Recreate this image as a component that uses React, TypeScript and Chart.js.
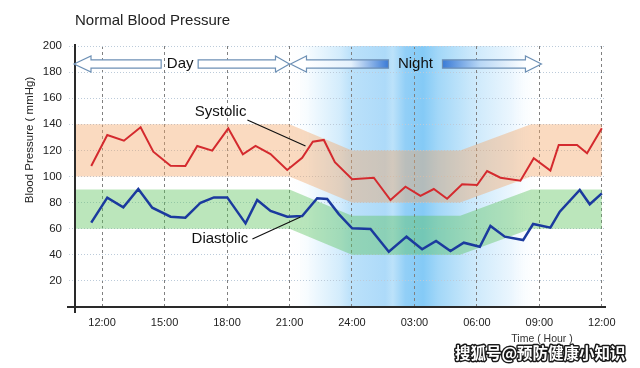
import React, { useEffect, useRef } from 'react';
import { Chart, registerables } from 'chart.js';

Chart.register(...registerables);

const FONT = "'Liberation Sans', Arial, Helvetica, sans-serif";

// ---- axis data ----
const tickHours = [12, 15, 18, 21, 24, 27, 30, 33, 36];
const tickLabels = ['12:00', '15:00', '18:00', '21:00', '24:00', '03:00', '06:00', '09:00', '12:00'];
const xMin = 10.7;
const xMax = 36.2;
const yMin = 0;
const yMax = 200;
const yStep = 20;

// ---- series data (hour of day, continuing past 24) ----
const sysHours = [11.48, 12.25, 13.05, 13.85, 14.46, 15.29, 16.0, 16.57, 17.29, 18.06, 18.76, 19.37, 20.09, 20.89, 21.61, 22.12, 22.65, 23.18, 24.01, 25.05, 25.85, 26.57, 27.29, 27.93, 28.57, 29.29, 30.01, 30.49, 31.13, 32.09, 32.73, 33.53, 33.93, 34.81, 35.29, 36.0];
const sysValues = [108, 131.8, 127.4, 137.7, 119, 108.3, 108, 123.4, 119.8, 136.9, 117, 123.4, 117.2, 105, 114.4, 126.7, 128, 110.9, 97.9, 99.1, 82, 92.2, 85.1, 90.4, 83, 94, 93.5, 104.2, 99.1, 96.8, 114, 104.5, 124.1, 124.1, 117.8, 136.9];

const diaHours = [11.48, 12.25, 13.02, 13.74, 14.41, 15.29, 16.0, 16.73, 17.37, 18.01, 18.89, 19.45, 20.09, 20.89, 21.61, 22.33, 22.81, 23.37, 24.01, 24.89, 25.77, 26.62, 27.37, 28.04, 28.73, 29.37, 30.14, 30.65, 31.34, 32.22, 32.7, 33.53, 33.98, 34.94, 35.42, 36.0];
const diaValues = [64.6, 83.8, 76.4, 90.4, 76.1, 69.2, 68.4, 79.9, 84, 84, 64.1, 82, 73.6, 69.2, 69.7, 83.3, 82.8, 71.2, 60.3, 59.8, 42.4, 53.9, 44.2, 50.6, 42.9, 49.3, 46.2, 62.1, 53.9, 51.3, 63.6, 60.8, 73, 89.7, 78.7, 87.1];

// ---- normal ranges ----
const bandHours = [10.7, 21, 24, 29.2, 32.6, 36];
const sysBandHigh = [140, 140, 120, 120, 140, 140];
const sysBandLow = [100, 100, 80, 80, 100, 100];
const diaBandHigh = [90, 90, 70, 70, 90, 90];
const diaBandLow = [60, 60, 40, 40, 60, 60];

// ---- night shading ----
const nightStart = 21;
const nightEnd = 33.1;
const nightStops: [number, string][] = [
  [0, 'rgba(255,255,255,0)'],
  [0.1, '#eef8fe'],
  [0.2, '#d3ecfc'],
  [0.245, '#bbe1fa'],
  [0.38, '#addaf9'],
  [0.41, '#bce2fa'],
  [0.46, '#92cff7'],
  [0.53, '#84caf6'],
  [0.59, '#a2d7f8'],
  [0.72, '#cae8fb'],
  [0.88, '#ebf6fe'],
  [1, 'rgba(255,255,255,0)'],
];

// ---- annotation text ----
const titleText = 'Normal Blood Pressure';
const yTitle = 'Blood Pressure ( mmHg)';
const xTitle = 'Time ( Hour )';
const dayLabel = 'Day';
const nightLabel = 'Night';
const sysLabel = 'Systolic';
const diaLabel = 'Diastolic';
const watermark = '搜狐号@预防健康小知识';

const arrowValue = 186.2;
const dayTextHour = 15.75;
const nightTextHour = 27.05;
const sysLabelPos = { x: 17.69, y: 149.4 };
const sysLeader = [{ x: 18.98, y: 143.3 }, { x: 21.77, y: 123.4 }];
const diaLabelPos = { x: 17.66, y: 52.1 };
const diaLeader = [{ x: 19.22, y: 52.1 }, { x: 21.53, y: 69 }];

const pts = (xs: number[], ys: number[]) => xs.map((x, i) => ({ x, y: ys[i] }));

function arrowPath(ctx: CanvasRenderingContext2D, xTip: number, xEnd: number, cy: number, hl: number) {
  const dir = xEnd > xTip ? 1 : -1;
  const hh = 8;
  const sh = 4.2;
  const xb = xTip + dir * hl;
  ctx.beginPath();
  ctx.moveTo(xTip, cy);
  ctx.lineTo(xb, cy - hh);
  ctx.lineTo(xb, cy - sh);
  ctx.lineTo(xEnd, cy - sh);
  ctx.lineTo(xEnd, cy + sh);
  ctx.lineTo(xb, cy + sh);
  ctx.lineTo(xb, cy + hh);
  ctx.closePath();
}

export default function App() {
  const ref = useRef<HTMLCanvasElement>(null);

  useEffect(() => {
    const canvas = ref.current;
    if (!canvas) return;

    const nightPlugin = {
      id: 'nightShade',
      beforeDraw(chart: any) {
        const { ctx, chartArea } = chart;
        const xs = chart.scales.x;
        const x0 = xs.getPixelForValue(nightStart);
        const x1 = xs.getPixelForValue(nightEnd);
        const g = ctx.createLinearGradient(x0, 0, x1, 0);
        nightStops.forEach(([o, c]) => g.addColorStop(o, c));
        ctx.save();
        ctx.fillStyle = g;
        ctx.fillRect(x0, chartArea.top, x1 - x0, chartArea.bottom - chartArea.top);
        ctx.restore();
      },
    };

    const decorPlugin = {
      id: 'decor',
      afterDraw(chart: any) {
        const { ctx, chartArea } = chart;
        const xs = chart.scales.x;
        const ys = chart.scales.y;
        const px = (h: number) => xs.getPixelForValue(h);
        const py = (v: number) => ys.getPixelForValue(v);
        ctx.save();

        // axis lines
        ctx.strokeStyle = '#2a2a2a';
        ctx.lineWidth = 2;
        ctx.setLineDash([]);
        ctx.beginPath();
        ctx.moveTo(chartArea.left, chartArea.top - 2);
        ctx.lineTo(chartArea.left, chartArea.bottom + 6);
        ctx.moveTo(chartArea.left - 8, chartArea.bottom);
        ctx.lineTo(chartArea.right, chartArea.bottom);
        ctx.stroke();

        // title
        ctx.fillStyle = '#222';
        ctx.font = `15px ${FONT}`;
        ctx.textAlign = 'left';
        ctx.textBaseline = 'alphabetic';
        ctx.fillText(titleText, chartArea.left, 25);

        // y title
        ctx.save();
        ctx.translate(30, 140);
        ctx.rotate(-Math.PI / 2);
        ctx.font = `11.5px ${FONT}`;
        ctx.textAlign = 'center';
        ctx.textBaseline = 'middle';
        ctx.fillStyle = '#222';
        ctx.fillText(yTitle, 0, 0);
        ctx.restore();

        // arrows
        const cy = py(arrowValue);
        const outline = '#6d90b5';
        ctx.lineWidth = 1.2;
        ctx.strokeStyle = outline;
        const dayL = chartArea.left;
        const dayR = px(nightStart);
        const dayC = px(dayTextHour);
        arrowPath(ctx, dayL - 1, dayC - 19, cy, 17);
        ctx.fillStyle = '#ffffff';
        ctx.fill();
        ctx.stroke();
        arrowPath(ctx, dayR, dayC + 18, cy, 14);
        ctx.fill();
        ctx.stroke();

        const nL = px(nightStart);
        const nR = px(nightEnd);
        const nC = px(nightTextHour);
        const gl = ctx.createLinearGradient(nL + 16, 0, nC - 27, 0);
        gl.addColorStop(0, '#ffffff');
        gl.addColorStop(0.55, '#e4f1fc');
        gl.addColorStop(1, '#3a7bd6');
        arrowPath(ctx, nL + 1, nC - 27, cy, 16);
        ctx.fillStyle = gl;
        ctx.fill();
        ctx.stroke();
        const gr = ctx.createLinearGradient(nC + 27, 0, nR - 15, 0);
        gr.addColorStop(0, '#3a7bd6');
        gr.addColorStop(0.45, '#b9d8f6');
        gr.addColorStop(1, '#ffffff');
        arrowPath(ctx, nR, nC + 27, cy, 16);
        ctx.fillStyle = gr;
        ctx.fill();
        ctx.stroke();

        ctx.fillStyle = '#111';
        ctx.font = `15px ${FONT}`;
        ctx.textAlign = 'center';
        ctx.textBaseline = 'middle';
        ctx.fillText(dayLabel, dayC, cy);
        ctx.fillText(nightLabel, nC, cy);

        // series labels and leaders
        ctx.fillText(sysLabel, px(sysLabelPos.x), py(sysLabelPos.y));
        ctx.fillText(diaLabel, px(diaLabelPos.x), py(diaLabelPos.y));
        ctx.strokeStyle = '#111';
        ctx.lineWidth = 1.2;
        ctx.beginPath();
        ctx.moveTo(px(sysLeader[0].x), py(sysLeader[0].y));
        ctx.lineTo(px(sysLeader[1].x), py(sysLeader[1].y));
        ctx.moveTo(px(diaLeader[0].x), py(diaLeader[0].y));
        ctx.lineTo(px(diaLeader[1].x), py(diaLeader[1].y));
        ctx.stroke();

        // x title
        ctx.font = `10.5px ${FONT}`;
        ctx.fillStyle = '#333';
        ctx.fillText(xTitle, 542, 339);

        // watermark
        ctx.font = `bold 15.5px 'Noto Sans CJK SC', sans-serif`;
        ctx.textAlign = 'left';
        ctx.textBaseline = 'middle';
        ctx.lineJoin = 'round';
        ctx.lineWidth = 3;
        ctx.strokeStyle = '#1a1a1a';
        ctx.strokeText(watermark, 455, 353);
        ctx.fillStyle = '#ffffff';
        ctx.fillText(watermark, 455, 353);

        ctx.restore();
      },
    };

    const lineCommon = { pointRadius: 0, pointHoverRadius: 0, tension: 0 };
    const bandCommon = { pointRadius: 0, borderWidth: 0, borderColor: 'rgba(0,0,0,0)', tension: 0 };

    const chart = new Chart(canvas, {
      type: 'line',
      data: {
        datasets: [
          { label: 'Systolic', data: pts(sysHours, sysValues), borderColor: '#d42a2e', borderWidth: 2, fill: false, ...lineCommon },
          { label: 'Diastolic', data: pts(diaHours, diaValues), borderColor: '#1b3a9e', borderWidth: 2.5, fill: false, ...lineCommon },
          { label: 'sysHigh', data: pts(bandHours, sysBandHigh), fill: false, ...bandCommon },
          { label: 'sysLow', data: pts(bandHours, sysBandLow), fill: '-1', backgroundColor: 'rgba(244,166,104,0.42)', ...bandCommon },
          { label: 'diaHigh', data: pts(bandHours, diaBandHigh), fill: false, ...bandCommon },
          { label: 'diaLow', data: pts(bandHours, diaBandLow), fill: '-1', backgroundColor: 'rgba(92,196,92,0.42)', ...bandCommon },
        ],
      },
      options: {
        responsive: false,
        animation: false,
        events: [],
        layout: { padding: { top: 46, right: 34, left: 0, bottom: 0 } },
        plugins: { legend: { display: false }, tooltip: { enabled: false }, title: { display: false } },
        scales: {
          x: {
            type: 'linear',
            min: xMin,
            max: xMax,
            afterFit: (s: any) => { s.height = 61; },
            afterBuildTicks: (s: any) => { s.ticks = tickHours.map((v) => ({ value: v })); },
            ticks: {
              autoSkip: false,
              maxRotation: 0,
              padding: 9,
              color: '#222',
              font: { family: FONT, size: 11 },
              callback: (_v: any, i: number) => tickLabels[i],
            },
            grid: { color: '#808080', lineWidth: 1, drawTicks: false },
            border: { display: false, dash: [3, 3] },
          },
          y: {
            type: 'linear',
            min: yMin,
            max: yMax,
            afterFit: (s: any) => { s.width = 75; },
            ticks: {
              stepSize: yStep,
              padding: 7,
              color: '#222',
              font: { family: FONT, size: 11.5 },
              callback: (v: any) => (v === 0 ? '' : String(v)),
            },
            grid: { color: '#bccbda', lineWidth: 1, drawTicks: true, tickLength: 6, tickColor: '#c4d0dc', tickBorderDash: [1, 2] },
            border: { display: false, dash: [1, 2] },
          },
        },
      },
      plugins: [nightPlugin, decorPlugin],
    } as any);

    return () => chart.destroy();
  }, []);

  return (
    <div style={{ position: 'absolute', left: 0, top: 0, width: 640, height: 368 }}>
      <canvas ref={ref} width={640} height={368} style={{ display: 'block' }} />
    </div>
  );
}
